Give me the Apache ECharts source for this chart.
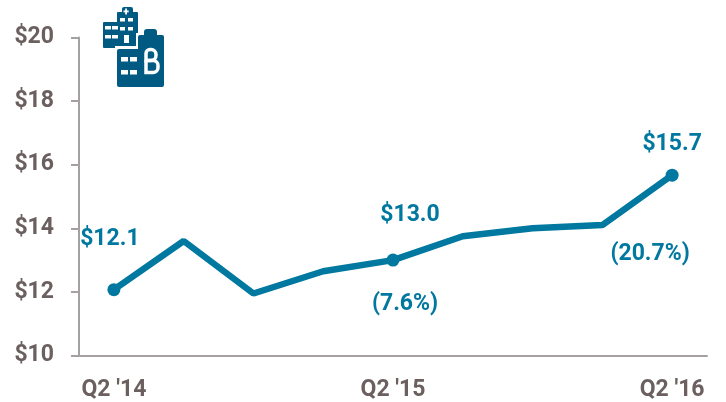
<!DOCTYPE html>
<html><head><meta charset="utf-8">
<style>html,body{margin:0;padding:0;background:#fff}#c{width:726px;height:402px}</style>
<script src="https://cdn.jsdelivr.net/npm/echarts@6/dist/echarts.min.js"></script>
</head><body><div id="c"></div>
<script>
const categories = ["Q2 '14","Q3 '14","Q4 '14","Q1 '15","Q2 '15","Q3 '15","Q4 '15","Q1 '16","Q2 '16"];
const tickShown = ["Q2 '14","Q2 '15","Q2 '16"];
const values = [12.07,13.6,11.95,12.65,13.0,13.75,14.0,14.1,15.67];
const valueLabels = ["$12.1","","","","$13.0","","","","$15.7"];
const changeLabels = ["","","","","(7.6%)","","","","(20.7%)"];
const markerShown = [true,false,false,false,true,false,false,false,true];
const font = 'Roboto,"Liberation Sans",sans-serif';
const blue = '#00789f', grey = '#6b605f', axisGrey = '#a6a1a1', navy = '#005a82';

const chart = echarts.init(document.getElementById('c'));
const R = (x,y,w,h,fill,r)=>({type:'rect',shape:{x,y,width:w,height:h,r:r||0},style:{fill}});
const icon = [
  R(103,22,20,26,navy,1), R(117,12,21,36,navy,1), R(122,7,11,8,navy,2),
  R(125.2,8.5,1.8,6,'#fff'), R(123.5,10.5,5.2,1.8,'#fff'),
  ...[[105,26],[112,26],[105,35],[112,35]].map(p=>R(p[0],p[1],6,3.5,'#fff')),
  ...[[120,18],[128,18],[120,27],[128,27]].map(p=>R(p[0],p[1],5,3.5,'#fff')),
  R(124,35,5,8,'#fff'),
  R(115,46,27,6,'#fff'), R(136,33,6,16,'#fff'),
  R(117,49,24,38,navy,2), R(138,35,26,52,navy,2), R(144,29,13,8,navy,3),
  ...[[121,57],[130,57],[121,70],[130,70]].map(p=>R(p[0],p[1],7,4.5,'#fff')),
  {type:'rect',shape:{x:146,y:49.5,width:10,height:11,r:[4,5,5,0]},style:{fill:'none',stroke:'#fff',lineWidth:3.5}},
  {type:'rect',shape:{x:146,y:60.5,width:12,height:12,r:[0,5,5,0]},style:{fill:'none',stroke:'#fff',lineWidth:3.5}}
];
chart.setOption({
  animation:false,
  backgroundColor:'#fff',
  grid:{left:79,right:19,top:37.5,bottom:46.5},
  xAxis:{type:'category',data:categories,boundaryGap:true,
    axisLine:{lineStyle:{color:axisGrey,width:2}},axisTick:{show:false},
    axisLabel:{interval:0,color:grey,fontFamily:font,fontSize:23,fontWeight:'bold',margin:23,
      formatter:v=>tickShown.includes(v)?v:''}},
  yAxis:{type:'value',min:10,max:20,interval:2,
    axisLine:{show:true,lineStyle:{color:axisGrey,width:2}},
    axisTick:{show:true,length:8,lineStyle:{color:axisGrey,width:2}},
    splitLine:{show:false},
    axisLabel:{color:grey,fontFamily:font,fontSize:23,fontWeight:'bold',margin:25,formatter:v=>'$'+v}},
  series:[
    {type:'line',data:values.map((v,i)=>({value:v,
        symbolSize:markerShown[i]?13:0,
        label:{show:!!valueLabels[i],formatter:valueLabels[i],position:'top',
          offset:[[-4,-27],0,0,0,[17,-22],0,0,0,[0,-8]][i]}})),
      symbol:'circle',showSymbol:true,lineStyle:{color:blue,width:6.5},itemStyle:{color:blue},
      label:{color:blue,fontFamily:font,fontSize:23,fontWeight:'bold'},z:3},
    {type:'line',data:values.map((v,i)=>({value:v,
        label:{show:!!changeLabels[i],formatter:changeLabels[i],position:'bottom',
          offset:[0,0,0,0,[12,27],0,0,0,[-22,62]][i]}})),
      symbol:'circle',showSymbol:true,symbolSize:1,lineStyle:{opacity:0},itemStyle:{color:'transparent'},
      label:{color:blue,fontFamily:font,fontSize:23,fontWeight:'bold'},z:2}
  ],
  graphic:icon.map(e=>Object.assign({z:10,silent:true},e))
});
</script></body></html>
